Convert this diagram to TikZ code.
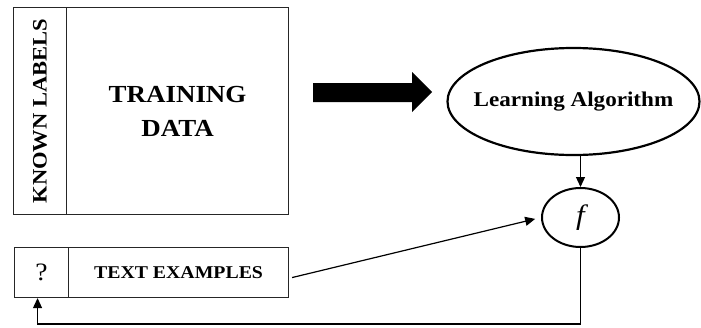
\documentclass[tikz,border=0pt]{standalone}
\usepackage{fontspec}
\setmainfont[FakeStretch=1.1]{Liberation Serif}
\usetikzlibrary{arrows.meta,shapes.geometric}
\begin{document}
\begin{tikzpicture}[x=1pt,y=-1pt,
  boxst/.style={draw=black!85,line width=1.1pt,rectangle,inner sep=0pt,anchor=north west},
  thickov/.style={draw=black,line width=2.2pt,ellipse,inner sep=0pt},
  conn/.style={line width=1.2pt,-{Triangle[length=10pt,width=9pt]}}]
\useasboundingbox (0,0) rectangle (701,327);
\node[boxst,minimum width=53pt,minimum height=207pt] (kl) at (13,7) {};
\node[rotate=90,font=\fontsize{20.5}{22}\selectfont\bfseries] (klt) at (kl.center) {KNOWN LABELS};
\node[boxst,minimum width=222pt,minimum height=207pt] (td) at (66,7) {};
\node[align=center,font=\fontsize{24.5}{34}\selectfont\bfseries] (tdt) at (td.center) {TRAINING\\DATA};
\fill (313,83) -- (412,83) -- (412,72) -- (432,92) -- (412,112) -- (412,102) -- (313,102) -- cycle;
\node[thickov,minimum width=252pt,minimum height=107pt] (la) at (573.5,101.5) {};
\node[font=\fontsize{21}{22}\selectfont\bfseries] (lat) at (la.center) {Learning Algorithm};
\node[thickov,line width=2pt,minimum width=77pt,minimum height=59pt] (f) at (580.5,217.5) {};
\node[font=\fontsize{28}{28}\selectfont\itshape] (ft) at (f.center) {f};
\node[boxst,minimum width=54pt,minimum height=50pt,font=\fontsize{25}{25}\selectfont] (q) at (14,247) {?};
\node[boxst,minimum width=220pt,minimum height=50pt,font=\fontsize{18}{20}\selectfont\bfseries] (te) at (68,247) {TEXT EXAMPLES};
\draw[conn] (la.south -| f.north) -- (f.north);
\draw[conn,shorten >=6pt] ([xshift=3pt,yshift=-5pt]te.east) -- (f.west);
\coordinate (br) at (580.5,324);
\draw[conn] (f.south) -- (br) -| ([xshift=-4pt]q.south);
\end{tikzpicture}
\end{document}
